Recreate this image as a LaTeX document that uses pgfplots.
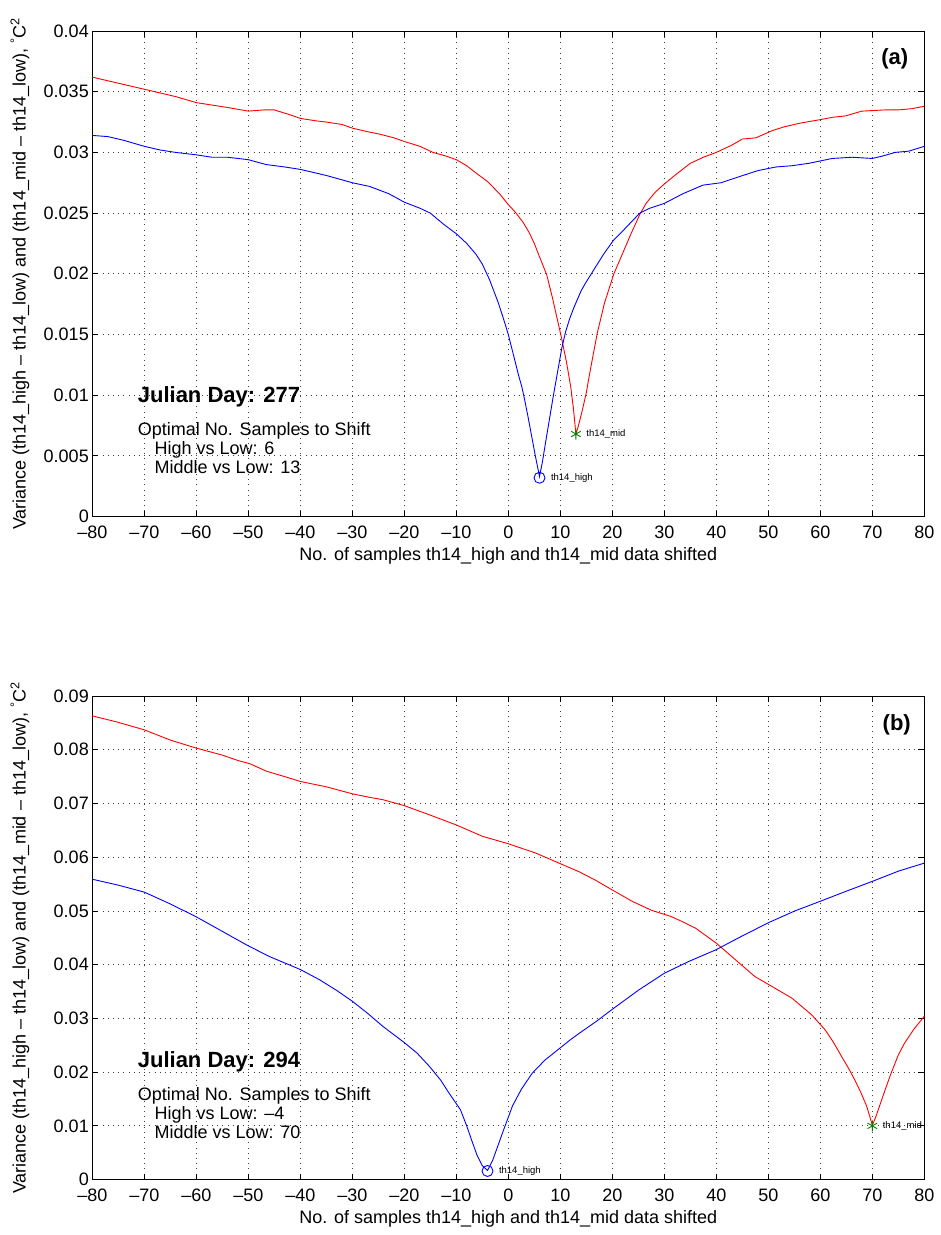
\documentclass[border=0pt]{standalone}
\usepackage{pgfplots}
\pgfplotsset{compat=1.18}
\usepackage{fontspec}
\setmainfont{Liberation Sans}
\newcommand{\fs}{\fontsize{18}{21}\selectfont}
\newcommand{\fb}{\fontsize{22}{25}\selectfont\bfseries}
\newcommand{\fsm}{\fontsize{9.5}{11}\selectfont}
\pgfplotsset{
  matlab/.style={
    scale only axis, width=832pt, height=485.6pt,
    xmin=-80, xmax=80, ymin=0,
    xtick={-80,-70,...,80},
    xticklabels={\textendash80,\textendash70,\textendash60,\textendash50,\textendash40,\textendash30,\textendash20,\textendash10,0,10,20,30,40,50,60,70,80},
    tick label style={font=\fs},
    xticklabel style={yshift=-6pt},
    label style={font=\fs},
    axis line style={line width=0.8pt},
    tick style={line width=0.8pt, black},
    major tick length=6pt,
    tick align=inside,
    grid=major,
    major grid style={line width=0.8pt, black!75, dash pattern=on 0.9pt off 4.3pt},
    scaled y ticks=false,
    xlabel={No. of samples th14\_high and th14\_mid data shifted},
    ylabel={Variance (th14\_high \textendash{} th14\_low) and (th14\_mid \textendash{} th14\_low), \textsuperscript{\textdegree}C\textsuperscript{2}},
    xlabel style={at={(axis description cs:0.5,-0.080)}, anchor=center},
    ylabel style={at={(axis description cs:-0.087,0.5)}, anchor=center},
    clip=false,
  }
}
\begin{document}
\begin{tikzpicture}
\path[use as bounding box] (0,0) rectangle (941pt,1235pt);
% ---------------- (a) ----------------
\begin{axis}[matlab, at={(92.3pt,718.4pt)}, anchor=south west,
  ymax=0.04,
  ytick={0,0.005,0.01,0.015,0.02,0.025,0.03,0.035,0.04},
  yticklabels={0,0.005,0.01,0.015,0.02,0.025,0.03,0.035,0.04}]
\addplot[red, line width=0.9pt] coordinates {
(-80,0.0362) (-77,0.0359) (-74,0.0356) (-70,0.0352) (-67,0.0349) (-64,0.0346) (-60,0.0341) (-57,0.0339) (-54,0.0337) (-50,0.0334) (-47,0.0335) (-45,0.0335) (-42,0.0331) (-40,0.0328) (-37,0.0326) (-35,0.0325) (-32,0.0323) (-30,0.0320) (-27,0.0317) (-24.7,0.0315) (-22,0.0312) (-20,0.0309) (-17,0.0305) (-14.5,0.0300) (-12,0.0297) (-10,0.0294) (-8,0.0289) (-6.2,0.0283) (-4,0.0276) (-1.7,0.0266) (0,0.0257) (1.5,0.0250) (2.9,0.0242) (4,0.0234) (5,0.0225) (6,0.0214) (7.4,0.0199) (8.5,0.0180) (9.5,0.0161) (10.3,0.0146) (11.2,0.0127) (12,0.0107) (12.5,0.0090) (13,0.0068) (13.5,0.0075) (14.2,0.0087) (15,0.0102) (15.4,0.0112) (16,0.0126) (17.1,0.0151) (18.5,0.0176) (20.3,0.0200) (21.5,0.0212) (22.5,0.0222) (23.6,0.0233) (25.3,0.0249) (26.5,0.0258) (28.2,0.0267) (30,0.0274) (32,0.0281) (35,0.0291) (37.5,0.0296) (40,0.0300) (43,0.0306) (45,0.0311) (47.6,0.0312) (50.8,0.0318) (53,0.0321) (56,0.0324) (60,0.0327) (62.5,0.0329) (64.8,0.0330) (68,0.0334) (72.5,0.0335) (75,0.0335) (77.6,0.0336) (80,0.0338)
};
\addplot[blue, line width=0.9pt] coordinates {
(-80,0.0314) (-77,0.0313) (-74,0.0310) (-70,0.0305) (-67,0.0302) (-64,0.0300) (-60,0.0298) (-57,0.0296) (-54,0.0296) (-52,0.0295) (-50,0.0294) (-46.6,0.0290) (-43,0.0288) (-40,0.0286) (-35,0.0281) (-30,0.0275) (-26.7,0.0272) (-23,0.0266) (-20,0.0259) (-17,0.0254) (-15,0.0250) (-12.5,0.0241) (-10,0.0233) (-8,0.0225) (-6.2,0.0216) (-5,0.0208) (-3.6,0.0195) (-2,0.0177) (-1,0.0164) (0,0.0150) (1,0.0133) (2,0.0116) (2.6,0.0107) (3.2,0.0095) (3.8,0.0082) (4.5,0.0066) (5.2,0.0050) (6,0.0033) (6.6,0.0046) (7.2,0.0062) (7.9,0.0080) (8.6,0.0098) (9.3,0.0115) (10.3,0.0139) (11,0.0152) (11.8,0.0163) (12.5,0.0171) (13.2,0.0178) (14,0.0186) (14.8,0.0192) (16.4,0.0203) (18.3,0.0216) (20.3,0.0228) (21.5,0.0233) (23.5,0.0242) (25.3,0.0250) (27.2,0.0254) (30,0.0258) (33.6,0.0266) (37.4,0.0273) (40.9,0.0275) (44.4,0.0280) (48,0.0285) (51.5,0.0288) (54.5,0.0289) (57.8,0.0291) (62.3,0.0295) (66.1,0.0296) (70,0.0295) (72,0.0297) (74.4,0.0300) (77,0.0301) (80,0.0305)
};
\addplot[blue, only marks, mark=o, mark size=5.5pt, line width=0.9pt] coordinates {(6,0.0032)};
\addplot[green!50!black, only marks, mark=asterisk, mark size=5.5pt, line width=0.9pt] coordinates {(13,0.0068)};
\node[anchor=west, font=\fsm, xshift=8pt] at (axis cs:6,0.0032) {th14\_high};
\node[anchor=west, font=\fsm, xshift=7pt] at (axis cs:13,0.0068) {th14\_mid};
\node[anchor=base west, font=\fb] at (rel axis cs:0.0505,0.2354) {Julian Day: 277};
\node[anchor=base west, font=\fs] at (rel axis cs:0.0505,0.1666) {Optimal No. Samples to Shift};
\node[anchor=base west, font=\fs] at (rel axis cs:0.0706,0.1269) {High vs Low: 6};
\node[anchor=base west, font=\fs] at (rel axis cs:0.0706,0.0892) {Middle vs Low: 13};
\node[anchor=base east, font=\fb] at (rel axis cs:0.985,0.930) {(a)};
\end{axis}
% ---------------- (b) ----------------
\begin{axis}[matlab, at={(92.3pt,55.4pt)}, anchor=south west,
  height=483.6pt,
  ymax=0.09,
  ytick={0,0.01,0.02,0.03,0.04,0.05,0.06,0.07,0.08,0.09},
  yticklabels={0,0.01,0.02,0.03,0.04,0.05,0.06,0.07,0.08,0.09},
  xlabel style={at={(axis description cs:0.5,-0.081)}, anchor=center}]
\addplot[red, line width=0.9pt] coordinates {
(-80,0.0863) (-75,0.0851) (-70,0.0837) (-65,0.0818) (-60,0.0803) (-55,0.0790) (-52,0.0780) (-49.7,0.0774) (-46.5,0.0760) (-43,0.0750) (-40,0.0741) (-35,0.0731) (-30,0.0718) (-27,0.0712) (-24.1,0.0707) (-20,0.0696) (-15.2,0.0679) (-10,0.0660) (-5,0.0639) (0,0.0625) (5.2,0.0608) (10,0.0588) (13.6,0.0573) (16.8,0.0557) (20,0.0539) (23.8,0.0518) (27.6,0.0501) (31.2,0.0490) (33.5,0.0480) (36,0.0468) (40,0.0440) (43.7,0.0409) (47.4,0.0378) (50.6,0.0360) (54.5,0.0338) (58.3,0.0307) (60.9,0.0279) (62.5,0.0256) (64.1,0.0229) (65.5,0.0206) (66.6,0.0186) (67.8,0.0162) (68.9,0.0137) (69.5,0.0118) (70,0.0101) (70.6,0.0115) (71.5,0.0140) (72.5,0.0168) (73.5,0.0195) (75,0.0232) (76.2,0.0254) (78,0.0280) (80,0.0304)
};
\addplot[blue, line width=0.9pt] coordinates {
(-80,0.0559) (-75,0.0548) (-70,0.0535) (-65,0.0513) (-60,0.0489) (-55,0.0462) (-50,0.0435) (-45.9,0.0415) (-40,0.0391) (-36.3,0.0372) (-33,0.0352) (-30,0.0332) (-27,0.0309) (-24.1,0.0285) (-20,0.0255) (-17.5,0.0235) (-15.2,0.0211) (-13,0.0185) (-11.4,0.0161) (-9.2,0.0130) (-8,0.0100) (-7,0.0072) (-6,0.0045) (-5,0.0026) (-4,0.0017) (-3,0.0036) (-2,0.0063) (-1,0.0090) (0,0.0116) (0.8,0.0137) (2.5,0.0168) (4.6,0.0198) (7,0.0222) (9.7,0.0243) (11.9,0.0260) (13.6,0.0272) (17,0.0295) (20,0.0317) (25.1,0.0353) (30,0.0384) (34.7,0.0406) (40,0.0428) (44.3,0.0450) (50,0.0478) (55.1,0.0500) (60,0.0518) (64.8,0.0536) (70,0.0555) (75,0.0574) (80,0.0589)
};
\addplot[blue, only marks, mark=o, mark size=5.5pt, line width=0.9pt] coordinates {(-4,0.0016)};
\addplot[green!50!black, only marks, mark=asterisk, mark size=5.5pt, line width=0.9pt] coordinates {(70,0.0100)};
\node[anchor=west, font=\fsm, xshift=8pt] at (axis cs:-4,0.0016) {th14\_high};
\node[anchor=west, font=\fsm, xshift=7pt] at (axis cs:70,0.0100) {th14\_mid};
\node[anchor=base west, font=\fb] at (rel axis cs:0.0505,0.2322) {Julian Day: 294};
\node[anchor=base west, font=\fs] at (rel axis cs:0.0505,0.1646) {Optimal No. Samples to Shift};
\node[anchor=base west, font=\fs] at (rel axis cs:0.0706,0.1247) {High vs Low: \textendash4};
\node[anchor=base west, font=\fs] at (rel axis cs:0.0706,0.0846) {Middle vs Low: 70};
\node[anchor=base east, font=\fb] at (rel axis cs:0.988,0.928) {(b)};
\end{axis}
\end{tikzpicture}
\end{document}
